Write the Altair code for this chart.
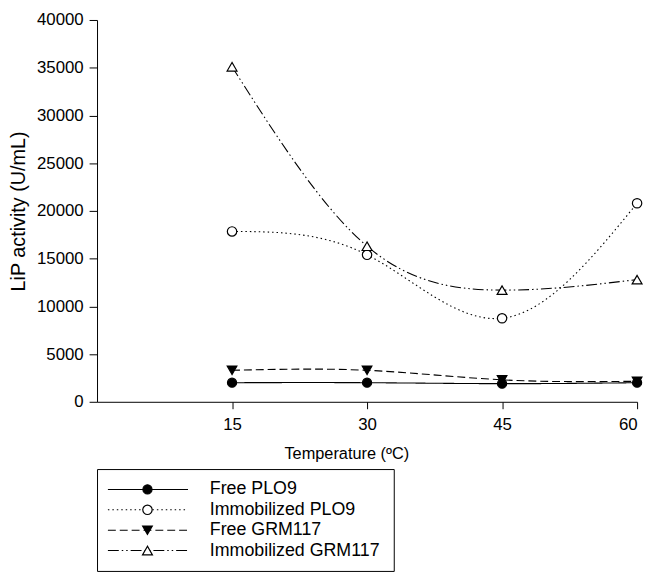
import altair as alt
import pandas as pd

temps = [15, 30, 45, 60]
series_names = ["Free PLO9", "Immobilized PLO9", "Free GRM117", "Immobilized GRM117"]
free_plo9 = [2000, 2000, 1900, 2000]
imm_plo9 = [17850, 15400, 8750, 20800]
free_grm117 = [3300, 3300, 2300, 2150]
imm_grm117 = [35100, 16300, 11700, 12800]

x_ticks = [15, 30, 45, 60]
y_ticks = [0, 5000, 10000, 15000, 20000, 25000, 30000, 35000, 40000]

rows = []
for name, vals in zip(series_names, [free_plo9, imm_plo9, free_grm117, imm_grm117]):
    for t, v in zip(temps, vals):
        rows.append({"series": name, "temp": t, "value": v})
df = pd.DataFrame(rows)
leg_df = pd.DataFrame({"series": series_names})

dash_scale = alt.Scale(domain=series_names,
                       range=[[1, 0], [1.5, 3], [8, 4], [11, 3, 1.5, 3, 1.5, 3]])
shape_scale = alt.Scale(domain=series_names,
                        range=["circle", "circle", "triangle-down", "triangle-up"])
fill_scale = alt.Scale(domain=series_names,
                       range=["black", "white", "black", "white"])
size_scale = alt.Scale(domain=series_names, range=[85, 100, 110, 120])

x_enc = alt.X("temp:Q", scale=alt.Scale(domain=[0, 60], nice=False),
              axis=alt.Axis(values=x_ticks, title="Temperature (ºC)", grid=False,
                            tickSize=7, labelPadding=8, labelFontSize=17,
                            titleFontSize=16.5, titleFontWeight="normal",
                            titlePadding=13, titleX=252, titleAlign="center"))
y_enc = alt.Y("value:Q", scale=alt.Scale(domain=[0, 40000], nice=False),
              axis=alt.Axis(values=y_ticks, format="d", title="LiP activity (U/mL)",
                            grid=False, tickSize=8, labelPadding=6, labelFontSize=17,
                            titleFontSize=20, titleFontWeight="normal", titlePadding=8))

lines = alt.Chart(df).mark_line(interpolate="natural", color="black", strokeWidth=1.1).encode(
    x=x_enc, y=y_enc,
    strokeDash=alt.StrokeDash("series:N", scale=dash_scale, legend=None),
    detail="series:N",
)
points = alt.Chart(df).mark_point(filled=False, stroke="black", strokeWidth=1.2, opacity=1).encode(
    x="temp:Q", y="value:Q",
    shape=alt.Shape("series:N", scale=shape_scale, legend=None),
    fill=alt.Fill("series:N", scale=fill_scale, legend=None),
    size=alt.Size("series:N", scale=size_scale, legend=None),
)
main = alt.layer(lines, points).properties(width=546, height=386)

y_leg = alt.Y("series:N", sort=series_names, axis=None,
              scale=alt.Scale(padding=1.05))
leg_rules = alt.Chart(leg_df).mark_rule(color="black", strokeWidth=1.1).encode(
    x=alt.value(11), x2=alt.value(92), y=y_leg,
    strokeDash=alt.StrokeDash("series:N", scale=dash_scale, legend=None),
)
leg_points = alt.Chart(leg_df).mark_point(stroke="black", strokeWidth=1.2, opacity=1).encode(
    x=alt.value(51), y=alt.Y("series:N", sort=series_names, axis=None),
    shape=alt.Shape("series:N", scale=shape_scale, legend=None),
    fill=alt.Fill("series:N", scale=fill_scale, legend=None),
    size=alt.Size("series:N", scale=size_scale, legend=None),
)
leg_text = alt.Chart(leg_df).mark_text(align="left", baseline="middle", fontSize=18,
                                       color="black").encode(
    x=alt.value(114), y=alt.Y("series:N", sort=series_names, axis=None),
    text="series:N",
)
legend_box = alt.layer(leg_rules, leg_points, leg_text).properties(
    width=300, height=103,
    view=alt.ViewBackground(stroke="black", strokeWidth=1),
)

chart = alt.vconcat(main, legend_box, spacing=68, bounds="flush").properties(
    padding={"top": 0, "left": 0, "right": 0, "bottom": 1}
).configure(font="Arial").configure_view(stroke=None).configure_axis(
    domainColor="black", tickColor="black", labelColor="black", titleColor="black",
    labelFont="Arial", titleFont="Arial", domainWidth=1, tickWidth=1
)

chart.save("out.html", embed_options={"renderer": "svg", "actions": False})
